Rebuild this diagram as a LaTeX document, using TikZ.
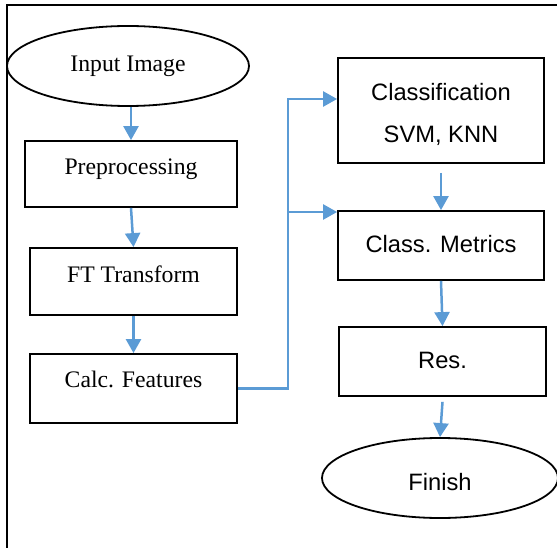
\documentclass[tikz,border=0pt]{standalone}
\usepackage{fontspec}
\setmainfont{Liberation Serif}
\newfontfamily\arialf{Liberation Sans}
\usetikzlibrary{shapes.geometric,arrows.meta}
\definecolor{flowblue}{RGB}{91,155,213}
\tikzset{
  boxbase/.style={draw=black, line width=1.8pt, inner sep=0pt, text depth=0pt},
  serifbox/.style={boxbase, rectangle, font=\fontsize{23.7}{28}\selectfont},
  sansbox/.style={boxbase, rectangle, font=\arialf\fontsize{23.7}{28}\selectfont},
  ovalbox/.style={boxbase, ellipse},
  arr/.style={draw=flowblue, line width=2.5pt, -{Triangle[width=15pt,length=14pt]}},
  lin/.style={draw=flowblue, line width=2.5pt},
}
\begin{document}
\begin{tikzpicture}[x=1pt,y=-1pt]
\useasboundingbox (0,0) rectangle (557,548);
% frame
\draw[line width=1.8pt] (7,548) -- (7,5) -- (560,5);
% left column
\node[ovalbox, minimum width=242, minimum height=80, text height=11.4pt, font=\fontsize{23.7}{28}\selectfont] (in) at (128,66) {Input Image};
\node[serifbox, minimum width=212, minimum height=66, text height=2pt] (pre) at (131,174) {Preprocessing};
\node[serifbox, minimum width=207, minimum height=67, text height=1pt] (ft) at (133.5,281.5) {FT Transform};
\node[serifbox, minimum width=207, minimum height=69, text height=0pt, text depth=2.4pt] (calc) at (133.5,388.5) {Calc. Features};
% right column
\node[sansbox, minimum width=206, minimum height=105, align=center, text height=63.6pt, text depth=0pt, font=\arialf\fontsize{23.7}{42}\selectfont] (cls) at (441,110.5) {Classification\\SVM, KNN};
\node[sansbox, minimum width=206, minimum height=69, text height=13pt] (met) at (441,245.5) {Class. Metrics};
\node[sansbox, minimum width=207, minimum height=69, text height=13.6pt] (res) at (442.5,361.5) {Res.};
\node[ovalbox, minimum width=236, minimum height=80, text height=25.4pt, font=\arialf\fontsize{23.7}{28}\selectfont] (fin) at (440,478) {Finish};
% connectors
\draw[arr] (in.south -| pre.north) -- (pre.north);
\draw[arr] (pre.south) -- (ft.north);
\draw[arr] (ft.south) -- (calc.north);
\coordinate (jtop) at (288,99);
\coordinate (jmid) at (288,212);
\draw[lin] (calc.east) -| (jmid);
\draw[arr] (jmid) |- (jtop) -- (cls.west |- jtop);
\draw[arr] (jmid) -- (met.west |- jmid);
\draw[arr] ([yshift=-9pt]cls.south) -- (met.north);
\draw[arr] (met.south) -- (res.north);
\draw[arr] ([yshift=-5pt]res.south) -- (fin.north);
\end{tikzpicture}
\end{document}
